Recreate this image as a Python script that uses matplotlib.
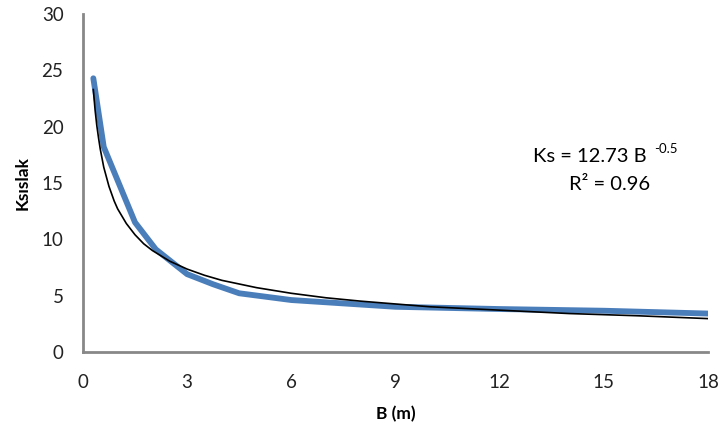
import matplotlib
matplotlib.use("Agg")
import matplotlib.pyplot as plt

plt.rcParams['font.family'] = ['Lato', 'DejaVu Sans']

# Measured data (blue)
B_data = [0.3, 0.6, 1.5, 2.1, 3.0, 3.75, 4.5, 6.0, 7.5, 9.0, 12.0, 15.0, 18.0]
Ks_data = [24.3, 18.2, 11.5, 9.1, 6.9, 6.0, 5.2, 4.6, 4.3, 4.0, 3.8, 3.65, 3.4]

# Power trend line (black)
B_fit = [0.3, 0.35, 0.4, 0.45, 0.5, 0.6, 0.75, 0.9, 1.0, 1.25, 1.5, 1.75, 2.0,
         2.5, 3.0, 3.5, 4.0, 5.0, 6.0, 7.0, 8.0, 9.0, 10.0, 12.0, 14.0, 16.0, 18.0]
Ks_fit = [23.3, 21.5, 20.1, 19.0, 18.0, 16.4, 14.7, 13.4, 12.7, 11.4, 10.4, 9.6, 9.0,
          8.05, 7.35, 6.8, 6.35, 5.7, 5.2, 4.8, 4.5, 4.25, 4.0, 3.7, 3.4, 3.2, 2.95]

x_ticks = [0, 3, 6, 9, 12, 15, 18]
y_ticks = [0, 5, 10, 15, 20, 25, 30]

fig = plt.figure(figsize=(7.21, 4.28), dpi=100)
ax = fig.add_axes([0.115, 0.178, 0.867, 0.789])

ax.plot(B_data, Ks_data, color='#4a7ebb', lw=4.2, solid_capstyle='round',
        solid_joinstyle='round', zorder=2)
ax.plot(B_fit, Ks_fit, color='black', lw=1.2, zorder=3)

ax.set_xlim(0, 18)
ax.set_ylim(0, 30)
ax.set_xticks(x_ticks)
ax.set_yticks(y_ticks)
ax.tick_params(length=0, labelsize=13.5, colors='#222222')
ax.tick_params(axis='x', pad=16)
ax.tick_params(axis='y', pad=14)

for s in ['top', 'right']:
    ax.spines[s].set_visible(False)
for s in ['left', 'bottom']:
    ax.spines[s].set_color('#888888')
    ax.spines[s].set_linewidth(2)

ax.set_xlabel('B (m)', fontsize=12.5, fontweight='bold', labelpad=11)
ax.set_ylabel('Ksıslak', fontsize=12.5, fontweight='bold', labelpad=8)

t1 = ax.text(0.902, 0.577, 'Ks = 12.73 B', transform=ax.transAxes,
             ha='right', va='center', fontsize=14.5)
ax.annotate('-0.5', xy=(1, 0.62), xycoords=t1, xytext=(5, 0),
            textcoords='offset points', ha='left', va='bottom', fontsize=9.5)
ax.text(0.842, 0.494, 'R² = 0.96', transform=ax.transAxes,
        ha='center', va='center', fontsize=14.5)

fig.savefig('out.png', dpi=100)
